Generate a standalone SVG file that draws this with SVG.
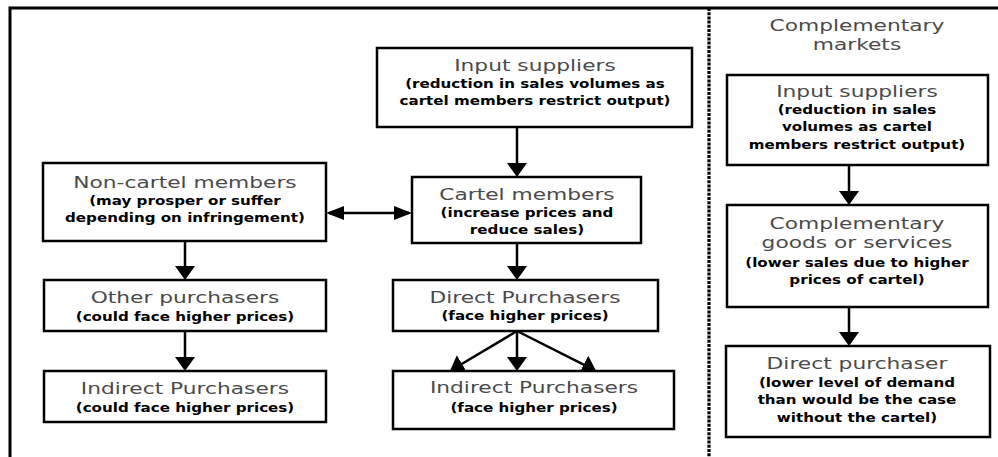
<svg xmlns="http://www.w3.org/2000/svg" width="998" height="457" viewBox="0 0 998 457">
<style>
.box{fill:#fff;stroke:#000;stroke-width:2.5}
.frame{fill:none;stroke:#000;stroke-width:3}
.dots{fill:none;stroke:#000;stroke-width:3.2;stroke-dasharray:3 1.2}
.conn{fill:none;stroke:#000;stroke-width:2.5}
text{font-family:"DejaVu Sans","Liberation Sans",sans-serif;text-anchor:middle;transform-box:fill-box;transform-origin:center}
.t{font-size:16px;fill:#4a4a4a;transform:scaleX(1.36)}
.s{font-size:12.5px;font-weight:bold;fill:#000;transform:scaleX(1.21)}
</style>
<defs>
<marker id="av" markerUnits="userSpaceOnUse" viewBox="0 0 14 20" markerWidth="14" markerHeight="20" refX="11" refY="10" orient="auto"><path d="M0,0 L14,10 L0,20 Z" fill="#000"/></marker>
<marker id="ah" markerUnits="userSpaceOnUse" viewBox="0 0 18 14" markerWidth="18" markerHeight="14" refX="15" refY="7" orient="auto-start-reverse"><path d="M0,0 L18,7 L0,14 Z" fill="#000"/></marker>
</defs>
<rect width="998" height="457" fill="#fff"/>
<g id="frame">
<path class="frame" d="M10,457 V8 H998"/>
<path class="dots" d="M709,8 V457"/>
</g>
<g id="connectors">
<path class="conn" d="M185,241 V277" marker-end="url(#av)"/>
<path class="conn" d="M185,331 V368" marker-end="url(#av)"/>
<path class="conn" d="M517,127 V174" marker-end="url(#av)"/>
<path class="conn" d="M517,243 V277" marker-end="url(#av)"/>
<path class="conn" d="M517,331 V368" marker-end="url(#av)"/>
<path class="conn" d="M517,331 L452.5,369.5" marker-end="url(#av)"/>
<path class="conn" d="M517,331 L593.5,369.6" marker-end="url(#av)"/>
<path class="conn" d="M329,213 H409" marker-start="url(#ah)" marker-end="url(#ah)"/>
<path class="conn" d="M849,165 V202" marker-end="url(#av)"/>
<path class="conn" d="M849,307 V343" marker-end="url(#av)"/>
</g>
<g id="noncartel">
<rect class="box" x="43" y="163" width="283" height="78"/>
<text class="t" x="185" y="188">Non-cartel members</text>
<text class="s" x="185" y="205">(may prosper or suffer</text>
<text class="s" x="185" y="222">depending on infringement)</text>
</g>
<g id="otherpurchasers">
<rect class="box" x="44" y="280" width="282" height="51"/>
<text class="t" x="185" y="303">Other purchasers</text>
<text class="s" x="185" y="321">(could face higher prices)</text>
</g>
<g id="indirectleft">
<rect class="box" x="44" y="371" width="282" height="51"/>
<text class="t" x="185" y="394">Indirect Purchasers</text>
<text class="s" x="185" y="412">(could face higher prices)</text>
</g>
<g id="inputsuppliers">
<rect class="box" x="377" y="48" width="315" height="79"/>
<text class="t" x="535" y="71">Input suppliers</text>
<text class="s" x="535" y="88">(reduction in sales volumes as</text>
<text class="s" x="535" y="105">cartel members restrict output)</text>
</g>
<g id="cartelmembers">
<rect class="box" x="412" y="177" width="229" height="66"/>
<text class="t" x="527" y="200">Cartel members</text>
<text class="s" x="527" y="217">(increase prices and</text>
<text class="s" x="527" y="234">reduce sales)</text>
</g>
<g id="directpurchasers">
<rect class="box" x="393" y="280" width="265" height="51"/>
<text class="t" x="525" y="303">Direct Purchasers</text>
<text class="s" x="525" y="320">(face higher prices)</text>
</g>
<g id="indirectcenter">
<rect class="box" x="393" y="371" width="281" height="58"/>
<text class="t" x="534" y="393">Indirect Purchasers</text>
<text class="s" x="534" y="412">(face higher prices)</text>
</g>
<g id="complementarytitle">
<text class="t" x="857" y="31">Complementary</text>
<text class="t" x="857" y="50">markets</text>
</g>
<g id="inputsuppliersright">
<rect class="box" x="727" y="75" width="261" height="90"/>
<text class="t" x="857" y="97">Input suppliers</text>
<text class="s" x="857" y="114">(reduction in sales</text>
<text class="s" x="857" y="131">volumes as cartel</text>
<text class="s" x="857" y="149">members restrict output)</text>
</g>
<g id="complementarygoods">
<rect class="box" x="727" y="205" width="261" height="102"/>
<text class="t" x="857" y="229">Complementary</text>
<text class="t" x="857" y="248">goods or services</text>
<text class="s" x="857" y="267">(lower sales due to higher</text>
<text class="s" x="857" y="284">prices of cartel)</text>
</g>
<g id="directpurchaser">
<rect class="box" x="726" y="346" width="264" height="91"/>
<text class="t" x="857" y="369">Direct purchaser</text>
<text class="s" x="857" y="387">(lower level of demand</text>
<text class="s" x="857" y="404">than would be the case</text>
<text class="s" x="857" y="422">without the cartel)</text>
</g>
</svg>
